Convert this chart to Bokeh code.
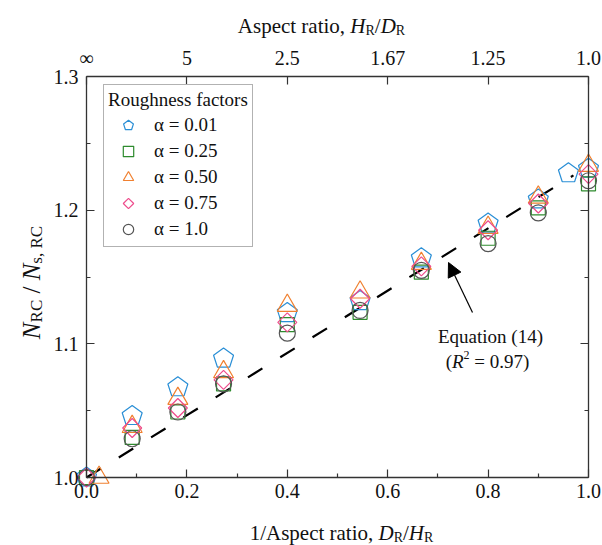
import math
from bokeh.plotting import figure
from bokeh.models import (Range1d, LinearAxis, FixedTicker, PrintfTickFormatter, Legend,
                          LegendItem, Label, Arrow, NormalHead)
from bokeh.embed import file_html
from bokeh.resources import INLINE

# ---------------- data ----------------
x_a001 = [0.0, 0.091, 0.182, 0.273, 0.4, 0.545, 0.667, 0.8, 0.9, 0.96, 1.0]
y_a001 = [1.0, 1.046, 1.0675, 1.089, 1.123, 1.132, 1.164, 1.190, 1.208, 1.2276, 1.231]

x_a025 = [0.0, 0.091, 0.182, 0.273, 0.4, 0.545, 0.667, 0.8, 0.9, 1.0]
y_a025 = [1.0, 1.030, 1.049, 1.070, 1.1144, 1.1236, 1.1536, 1.179, 1.2017, 1.2197]

x_a050 = [0.025, 0.091, 0.182, 0.273, 0.4, 0.545, 0.667, 0.8, 0.9, 1.0]
y_a050 = [1.0, 1.038, 1.059, 1.079, 1.1286, 1.1386, 1.160, 1.187, 1.2096, 1.2334]

x_a075 = [0.0, 0.091, 0.182, 0.273, 0.4, 0.545, 0.667, 0.8, 0.9, 1.0]
y_a075 = [1.0, 1.037, 1.052, 1.073, 1.116, 1.1337, 1.158, 1.185, 1.205, 1.227]

x_a100 = [0.0, 0.091, 0.182, 0.273, 0.4, 0.545, 0.667, 0.8, 0.9, 1.0]
y_a100 = [1.0, 1.029, 1.049, 1.070, 1.108, 1.125, 1.155, 1.175, 1.198, 1.222]

fit_x = [0.0, 0.97]
fit_y = [1.0, 1.226]

x_ticks = [0.0, 0.2, 0.4, 0.6, 0.8, 1.0]
x_minor = [0.1, 0.3, 0.5, 0.7, 0.9]
top_labels = ["\u221e", "5", "2.5", "1.67", "1.25", "1.0"]
y_ticks = [1.0, 1.1, 1.2, 1.3]
y_minor = [1.05, 1.15, 1.25]

legend_labels = ["\u03b1 = 0.01", "\u03b1 = 0.25", "\u03b1 = 0.50", "\u03b1 = 0.75", "\u03b1 = 1.0"]

# ---------------- layout ----------------
W, H = 602, 545
X0PX, X1PX, Y0PX, Y1PX = 86, 588, 477, 76      # pixel positions of x=0, x=1, y=1.0, y=1.3
AX_X0, AX_X1, AX_Y0, AX_Y1 = 0.0, 1.0, 1.0, 1.3
KX = (X1PX - X0PX) / (AX_X1 - AX_X0)
KY = (Y0PX - Y1PX) / (AX_Y1 - AX_Y0)
# the frame fills the whole canvas; the axes are drawn at fixed data locations
XMIN = AX_X0 - X0PX / KX
XMAX = AX_X1 + (W - X1PX) / KX
YMIN = AX_Y0 - (H - Y0PX) / KY
YMAX = AX_Y1 + Y1PX / KY

def dx(px):
    return AX_X0 + (px - X0PX) / KX

def dy(py):
    return AX_Y0 + (Y0PX - py) / KY

FONT = "Liberation Serif"
AX = "#333333"
TXT = "#111111"

p = figure(width=W, height=H, x_range=Range1d(XMIN, XMAX), y_range=Range1d(YMIN, YMAX),
           output_backend="svg", toolbar_location=None, title=None,
           min_border=0, min_border_left=0, min_border_right=0,
           min_border_top=0, min_border_bottom=0)
p.grid.visible = False
p.outline_line_color = None
p.background_fill_color = "white"
p.border_fill_color = "white"

def style_axis(ax, label_size="20px", tin=8, tout=0, min_in=4, min_out=0):
    ax.axis_line_color = AX
    ax.axis_line_width = 1.3
    ax.major_tick_line_color = AX
    ax.minor_tick_line_color = AX
    ax.major_tick_line_width = 1.2
    ax.minor_tick_line_width = 1.2
    ax.major_tick_in = tin
    ax.major_tick_out = tout
    ax.minor_tick_in = min_in
    ax.minor_tick_out = min_out
    ax.major_label_text_font = FONT
    ax.major_label_text_font_size = label_size
    ax.major_label_text_color = TXT

xb = p.xaxis[0]
xb.ticker = FixedTicker(ticks=x_ticks, minor_ticks=x_minor)
xb.formatter = PrintfTickFormatter(format="%.1f")
xb.fixed_location = AX_Y0
xb.bounds = (AX_X0, AX_X1)
style_axis(xb)
xb.major_label_standoff = 6

yl = p.yaxis[0]
yl.ticker = FixedTicker(ticks=y_ticks, minor_ticks=y_minor)
yl.formatter = PrintfTickFormatter(format="%.1f")
yl.fixed_location = AX_X0
yl.bounds = (AX_Y0, AX_Y1)
style_axis(yl)
yl.major_label_standoff = 8

xt = LinearAxis(ticker=FixedTicker(ticks=x_ticks, minor_ticks=[]),
                major_label_overrides={t: s for t, s in zip(x_ticks, top_labels)},
                fixed_location=AX_Y1, bounds=(AX_X0, AX_X1))
style_axis(xt)
xt.major_label_standoff = 8
p.add_layout(xt, "above")

yr = LinearAxis(ticker=FixedTicker(ticks=y_ticks, minor_ticks=y_minor),
                major_label_overrides={t: "" for t in y_ticks},
                fixed_location=AX_X1, bounds=(AX_Y0, AX_Y1))
style_axis(yr)
yr.major_label_standoff = 0
p.add_layout(yr, "right")

# ---------------- fit line ----------------
p.line(fit_x, fit_y, line_color="black", line_width=2.2, line_dash="17 21")

# ---------------- markers ----------------
C_BLUE, C_GREEN, C_ORANGE, C_PINK, C_GRAY = "#2a8fd6", "#2e8b2e", "#f08030", "#ee4c8c", "#555555"
LW = 1.2
r1 = p.ngon(x=x_a001, y=y_a001, radius=10.5, radius_units="screen", n=5, angle=0,
            fill_color=None, line_color=C_BLUE, line_width=LW)
r2 = p.scatter(x=x_a025, y=y_a025, marker="square", size=14, fill_color=None,
               line_color=C_GREEN, line_width=LW)
r3 = p.scatter(x=x_a050, y=y_a050, marker="triangle", size=20, fill_color=None,
               line_color=C_ORANGE, line_width=LW)
r4 = p.ngon(x=x_a075, y=y_a075, radius=9.5, radius_units="screen", n=4, angle=0,
            fill_color=None, line_color=C_PINK, line_width=LW)
r5 = p.scatter(x=x_a100, y=y_a100, marker="circle", size=16, fill_color=None,
               line_color=C_GRAY, line_width=LW)

legend = Legend(items=[LegendItem(label=l, renderers=[r]) for l, r in
                       zip(legend_labels, [r1, r2, r3, r4, r5])],
                location=(103, H - 247), title="Roughness factors",
                title_text_font=FONT, title_text_font_size="19px", title_text_font_style="normal",
                title_text_color=TXT, title_standoff=1,
                label_text_font=FONT, label_text_font_size="19px", label_text_color=TXT,
                glyph_width=40, glyph_height=26, label_height=26, label_standoff=6,
                spacing=0, padding=4, margin=0,
                border_line_color="#666666", border_line_width=1.3,
                background_fill_color="white", background_fill_alpha=1.0)
p.add_layout(legend, "center")

# ---------------- annotation ----------------
p.add_layout(Arrow(end=NormalHead(size=14, fill_color="black", line_color="black"),
                   x_start=dx(472), y_start=dy(312), x_end=dx(448), y_end=dy(262),
                   line_color="black", line_width=1.2))

# ---------------- rich text helpers ----------------
NB = "\u00a0"
W_REG = {' ': 250, NB: 250, '(': 333, ')': 333, ',': 250, '.': 250, '/': 278, '=': 564,
         'A': 722, 'C': 667, 'D': 722, 'E': 611, 'H': 722, 'N': 722, 'R': 667,
         'a': 444, 'c': 444, 'e': 444, 'i': 278, 'n': 500, 'o': 500, 'p': 500,
         'q': 500, 'r': 333, 's': 389, 't': 278, 'u': 500}
W_IT = {'D': 722, 'H': 722, 'N': 667, 'R': 611}

def seg_w(text, size, italic):
    tab = W_IT if italic else W_REG
    return sum(tab.get(c, W_REG.get(c, 500)) for c in text) * size / 1000.0

def rich(segs, cx, base, vertical=False):
    """Place text pieces; cx/base are canvas pixel positions converted to data units."""
    total = sum(seg_w(t, s, it) for t, s, it, sh in segs)
    pos = (cx - total / 2.0) if not vertical else (cx + total / 2.0)
    for t, s, it, sh in segs:
        if not vertical:
            lx, ly = pos, base - sh
            ang = 0
        else:
            lx, ly = base - sh, pos
            ang = math.pi / 2
        p.add_layout(Label(x=dx(lx), y=dy(ly), x_units="data", y_units="data", text=t,
                           text_font=FONT, text_font_size=f"{s}px",
                           text_font_style="italic" if it else "normal",
                           text_color=TXT, text_align="left",
                           text_baseline="alphabetic", angle=ang))
        w = seg_w(t, s, it)
        pos = pos + w if not vertical else pos - w

rich([("1/Aspect ratio," + NB, 21, False, 0), ("D", 21, True, 0), ("R", 14, False, -5),
      ("/", 21, False, 0), ("H", 21, True, 0), ("R", 14, False, -5)],
     341, 532)
rich([("Aspect ratio," + NB, 21, False, 0), ("H", 21, True, 0), ("R", 14, False, -5),
      ("/", 21, False, 0), ("D", 21, True, 0), ("R", 14, False, -5)],
     321, 25)
rich([("N", 25, True, 0), ("RC", 17, False, -5), (NB + "/" + NB, 25, False, 0),
      ("N", 25, True, 0), ("s," + NB + "RC", 17, False, -5)],
     282, 31, vertical=True)
rich([("Equation (14)", 19, False, 0)], 490, 336)
rich([("(", 19, False, 0), ("R", 19, True, 0), ("2", 12, False, 7),
      (NB + "=" + NB + "0.97)", 19, False, 0)],
     487, 361)

open("out.html", "w").write(file_html(p, INLINE))
